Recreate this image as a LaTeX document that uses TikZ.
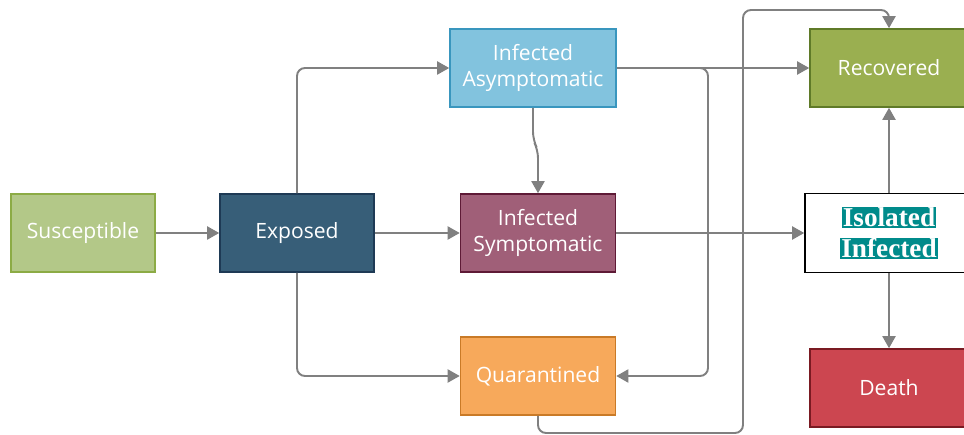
\documentclass[tikz,border=0pt]{standalone}
\usepackage{fontspec}
\setmainfont{Open Sans}
\newfontfamily\isofont{Liberation Serif}
\usepackage{xcolor}
\usepackage{tikz}
\usetikzlibrary{arrows.meta}
\definecolor{suscFill}{HTML}{B3C888}
\definecolor{suscLine}{HTML}{8CAB45}
\definecolor{expFill}{HTML}{375E78}
\definecolor{expLine}{HTML}{1E3A55}
\definecolor{asymFill}{HTML}{82C3DE}
\definecolor{asymLine}{HTML}{3996BE}
\definecolor{sympFill}{HTML}{A05F78}
\definecolor{sympLine}{HTML}{5E1A36}
\definecolor{quarFill}{HTML}{F7A95B}
\definecolor{quarLine}{HTML}{C97A27}
\definecolor{recFill}{HTML}{9AAF50}
\definecolor{recLine}{HTML}{5F7A28}
\definecolor{deathFill}{HTML}{CC4650}
\definecolor{deathLine}{HTML}{7A1A22}
\definecolor{isoTeal}{HTML}{008B8B}
\definecolor{flowGrey}{HTML}{808080}
\setlength{\fboxsep}{0.6pt}
\tikzset{
  statebox/.style 2 args={rectangle, draw=#1, fill=#2, line width=0.9pt, align=center, text=white, font=\fontsize{12}{15}\selectfont, minimum height=1.56cm, inner sep=2pt},
  isobox/.style={rectangle, draw=black, fill=white, line width=0.9pt, align=center, text=white, font=\isofont\bfseries\fontsize{15.5}{17.6}\selectfont, minimum height=1.58cm, inner sep=2pt},
  flowarrow/.style={-{Triangle[length=2.4mm,width=2.6mm]}, line width=1.1pt, draw=flowGrey, fill=none, rounded corners=1.6mm},
}

\begin{document}
\begin{tikzpicture}[x=0.02cm,y=-0.02cm]
  \useasboundingbox (0,0) rectangle (964,435);
  \node[statebox={suscLine}{suscFill}, minimum width=2.88cm] (sus) at (83,233) {Susceptible};
  \node[statebox={expLine}{expFill}, minimum width=3.08cm] (exp) at (297,233) {Exposed};
  \node[statebox={asymLine}{asymFill}, minimum width=3.32cm] (asym) at (533,68) {Infected\\Asymptomatic};
  \node[statebox={sympLine}{sympFill}, minimum width=3.10cm] (symp) at (538,233) {Infected\\Symptomatic};
  \node[statebox={quarLine}{quarFill}, minimum width=3.10cm] (quar) at (538,376) {Quarantined};
  \node[statebox={recLine}{recFill}, minimum width=3.16cm] (rec) at (889,68) {Recovered};
  \node[isobox, minimum width=3.36cm] (iso) at (889,233) {\colorbox{isoTeal}{Isolated}\\\colorbox{isoTeal}{Infected}};
  \node[statebox={deathLine}{deathFill}, minimum width=3.16cm] (death) at (889,388) {Death};
  % transitions
  \draw[flowarrow] (sus) -- (exp);
  \draw[flowarrow] (exp.north) |- (asym.west);
  \draw[flowarrow] (exp) -- (symp);
  \draw[flowarrow] (exp.south) |- (quar.west);
  \draw[flowarrow] (asym.south) -- (533,140) -- (538,150) -- (symp.north);
  \draw[flowarrow] (asym.east) -- (rec.west);
  \draw[flowarrow] (asym.east) -- (708,68) -- (708,376) -- (quar.east);
  \draw[flowarrow] (quar.south) -- (538,433) -- (743,433) -- (743,10) -| (rec.north);
  \draw[flowarrow] (symp.east) -- (iso.west);
  \draw[flowarrow] (iso.north) -- (rec.south);
  \draw[flowarrow] (iso.south) -- (death.north);
\end{tikzpicture}
\end{document}
